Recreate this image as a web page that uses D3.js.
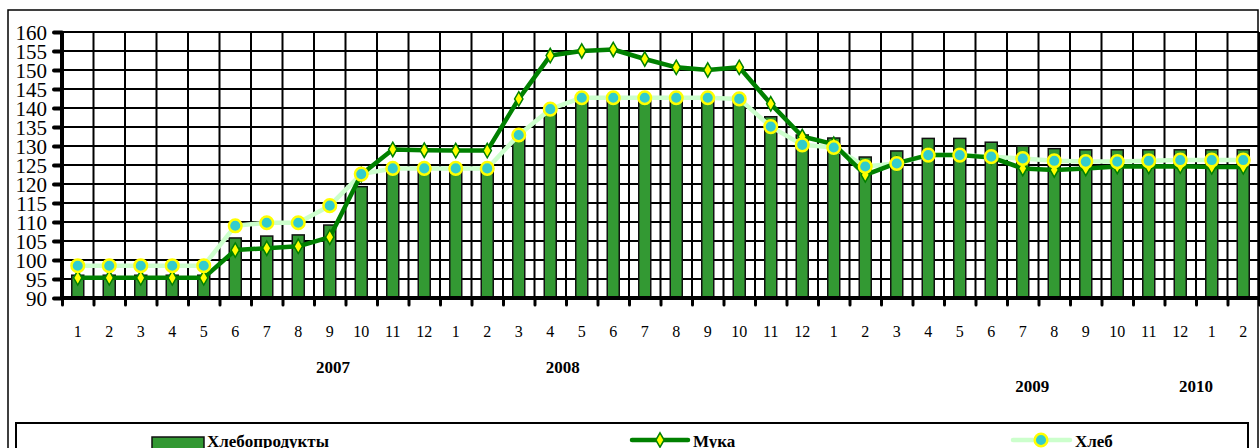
<!DOCTYPE html>
<html>
<head>
<meta charset="utf-8">
<script src="https://cdn.jsdelivr.net/npm/d3@7"></script>
<style>
  body { margin: 0; background: #fff; }
  svg { display: block; }
  text { font-family: "Liberation Serif", "Times New Roman", serif; fill: #000; }
</style>
</head>
<body>
<svg id="chart" width="1260" height="448"></svg>
<script>
// months, 2007-01 .. 2010-02
var months = ["1","2","3","4","5","6","7","8","9","10","11","12",
              "1","2","3","4","5","6","7","8","9","10","11","12",
              "1","2","3","4","5","6","7","8","9","10","11","12",
              "1","2"];

var years = ["2007", "2008", "2009", "2010"];

// Хлебопродукты (bars)
var hleboprodukty = [96, 96, 96, 96, 96, 105.8, 106.3, 106.6, 109.2, 119.3, 123.5, 123.5,
                     123.5, 123.5, 133.4, 139.5, 143, 143, 143, 143, 143, 143, 137.7, 132.9,
                     132.1, 127.1, 128.7, 132, 132, 131, 130, 129.3, 129, 129, 129, 129,
                     129, 129];

// Мука
var muka = [95.3, 95.3, 95.3, 95.3, 95.3, 102.6, 103.1, 103.6, 106, 122.5, 129.1, 128.9,
            128.8, 128.8, 142.4, 153.8, 155, 155.4, 152.9, 150.7, 150, 150.7, 141.1, 132.5,
            130.5, 122.4, 125.5, 127.6, 127.6, 127, 124.1, 123.7, 124.1, 124.6, 124.6, 124.7,
            124.5, 124.5];

// Хлеб
var hleb = [98.5, 98.5, 98.5, 98.5, 98.5, 109, 109.8, 109.8, 114.3, 122.6, 124.1, 124.1,
            124.1, 124.1, 132.9, 139.7, 142.7, 142.7, 142.7, 142.7, 142.7, 142.4, 135.1, 130.3,
            129.6, 124.6, 125.4, 127.6, 127.6, 127.2, 126.7, 126.1, 125.9, 125.9, 126.1, 126.3,
            126.3, 126.3];

var yTicks = d3.range(90, 161, 5);

var svg = d3.select("#chart");
var plotLeft = 62, plotRight = 1259, plotTop = 32, plotBottom = 298;
var idx = d3.range(months.length);

var x = d3.scaleBand().domain(idx).range([plotLeft, plotRight]);
var y = d3.scaleLinear().domain([90, 160]).range([plotBottom, plotTop]);
var cx = function(i) { return x(i) + x.bandwidth() / 2; };

// outer frame
svg.append("rect")
    .attr("x", 8).attr("y", 10)
    .attr("width", 1250).attr("height", 450)
    .attr("fill", "none").attr("stroke", "#000").attr("stroke-width", 1.5);

// grid
var grid = svg.append("g");
grid.selectAll("line.h").data(yTicks.filter(function(d) { return d > 90; }))
  .enter().append("line")
    .attr("x1", plotLeft).attr("x2", plotRight)
    .attr("y1", function(d) { return y(d); }).attr("y2", function(d) { return y(d); })
    .attr("stroke", "#000").attr("stroke-width", 2);
grid.selectAll("line.v").data(idx.slice(1).concat([months.length]))
  .enter().append("line")
    .attr("x1", function(i) { return i < months.length ? x(i) : plotRight; })
    .attr("x2", function(i) { return i < months.length ? x(i) : plotRight; })
    .attr("y1", plotTop).attr("y2", plotBottom)
    .attr("stroke", "#000").attr("stroke-width", 2);

// bars
var bw = 12;
svg.append("g").selectAll("rect").data(hleboprodukty)
  .enter().append("rect")
    .attr("x", function(d, i) { return cx(i) - bw / 2; })
    .attr("y", function(d) { return y(d); })
    .attr("width", bw)
    .attr("height", function(d) { return y(90) - y(d); })
    .attr("fill", "#339933")
    .attr("stroke", "#111").attr("stroke-width", 1.5);

// axes
var yAxis = d3.axisLeft(y).tickValues(yTicks).tickSize(8).tickPadding(7);
var gy = svg.append("g").attr("transform", "translate(" + plotLeft + ",0)").call(yAxis);
gy.select(".domain").attr("stroke-width", 4).attr("d", "M0," + plotTop + "V" + plotBottom);
gy.selectAll(".tick line").attr("stroke-width", 4).attr("stroke-linecap", "round");
gy.selectAll(".tick text")
    .style("font-family", "Liberation Serif")
    .style("font-size", "21px").attr("fill", "#000")
    .attr("dy", "0.34em");

var xTickPos = d3.scaleLinear().domain([0, months.length]).range([plotLeft, plotRight]);
var xAxis = d3.axisBottom(xTickPos).tickValues(d3.range(0, months.length + 1)).tickSize(7).tickFormat("");
var gx = svg.append("g").attr("transform", "translate(0," + plotBottom + ")").call(xAxis);
gx.select(".domain").attr("stroke-width", 4).attr("d", "M" + plotLeft + ",0H" + plotRight);
gx.selectAll(".tick line").attr("stroke-width", 3).attr("stroke-linecap", "round");

// month labels
svg.append("g").selectAll("text").data(months)
  .enter().append("text")
    .attr("x", function(d, i) { return cx(i); })
    .attr("y", 337)
    .attr("text-anchor", "middle")
    .style("font-size", "16px")
    .text(function(d) { return d; });

// year labels
var yearPos = [[8.6, 373], [15.9, 373], [30.8, 392], [36, 392]];
svg.append("g").selectAll("text").data(years)
  .enter().append("text")
    .attr("x", function(d, i) { return xTickPos(yearPos[i][0]); })
    .attr("y", function(d, i) { return yearPos[i][1]; })
    .attr("text-anchor", "middle")
    .style("font-size", "17px").style("font-weight", "bold")
    .text(function(d) { return d; });

// lines
var line = d3.line().x(function(d, i) { return cx(i); }).y(function(d) { return y(d); });

svg.append("path").datum(hleb)
    .attr("d", line).attr("fill", "none")
    .attr("stroke", "#ccffcc").attr("stroke-width", 4.5).attr("stroke-linejoin", "round");

svg.append("path").datum(muka)
    .attr("d", line).attr("fill", "none")
    .attr("stroke", "#008000").attr("stroke-width", 4.5).attr("stroke-linejoin", "round");

var diamond = d3.symbol().type(d3.symbolDiamond).size(60);
svg.append("g").selectAll("path").data(muka)
  .enter().append("path")
    .attr("d", diamond)
    .attr("transform", function(d, i) { return "translate(" + cx(i) + "," + y(d) + ")"; })
    .attr("fill", "#ffff00").attr("stroke", "#008000").attr("stroke-width", 1.5);

svg.append("g").selectAll("circle").data(hleb)
  .enter().append("circle")
    .attr("cx", function(d, i) { return cx(i); })
    .attr("cy", function(d) { return y(d); })
    .attr("r", 6.3)
    .attr("fill", "#33cccc").attr("stroke", "#ffff00").attr("stroke-width", 2.5);

// legend
var lg = svg.append("g");
lg.append("rect")
    .attr("x", 16).attr("y", 423).attr("width", 1232).attr("height", 40)
    .attr("fill", "#fff").attr("stroke", "#000").attr("stroke-width", 2);

lg.append("rect")
    .attr("x", 152).attr("y", 437).attr("width", 52).attr("height", 13)
    .attr("fill", "#339933").attr("stroke", "#111").attr("stroke-width", 1.5);
lg.append("text").attr("x", 207).attr("y", 447)
    .style("font-size", "17px").style("font-weight", "bold").text("Хлебопродукты");

lg.append("line").attr("x1", 632).attr("x2", 688).attr("y1", 440).attr("y2", 440)
    .attr("stroke", "#008000").attr("stroke-width", 4.5).attr("stroke-linecap", "round");
lg.append("path").attr("d", diamond)
    .attr("transform", "translate(660,440)")
    .attr("fill", "#ffff00").attr("stroke", "#008000").attr("stroke-width", 1.5);
lg.append("text").attr("x", 693).attr("y", 447)
    .style("font-size", "17px").style("font-weight", "bold").text("Мука");

lg.append("line").attr("x1", 1013).attr("x2", 1070).attr("y1", 440).attr("y2", 440)
    .attr("stroke", "#ccffcc").attr("stroke-width", 4.5).attr("stroke-linecap", "round");
lg.append("circle").attr("cx", 1041).attr("cy", 440).attr("r", 6.3)
    .attr("fill", "#33cccc").attr("stroke", "#ffff00").attr("stroke-width", 2.5);
lg.append("text").attr("x", 1075).attr("y", 447)
    .style("font-size", "17px").style("font-weight", "bold").text("Хлеб");
</script>
</body>
</html>
